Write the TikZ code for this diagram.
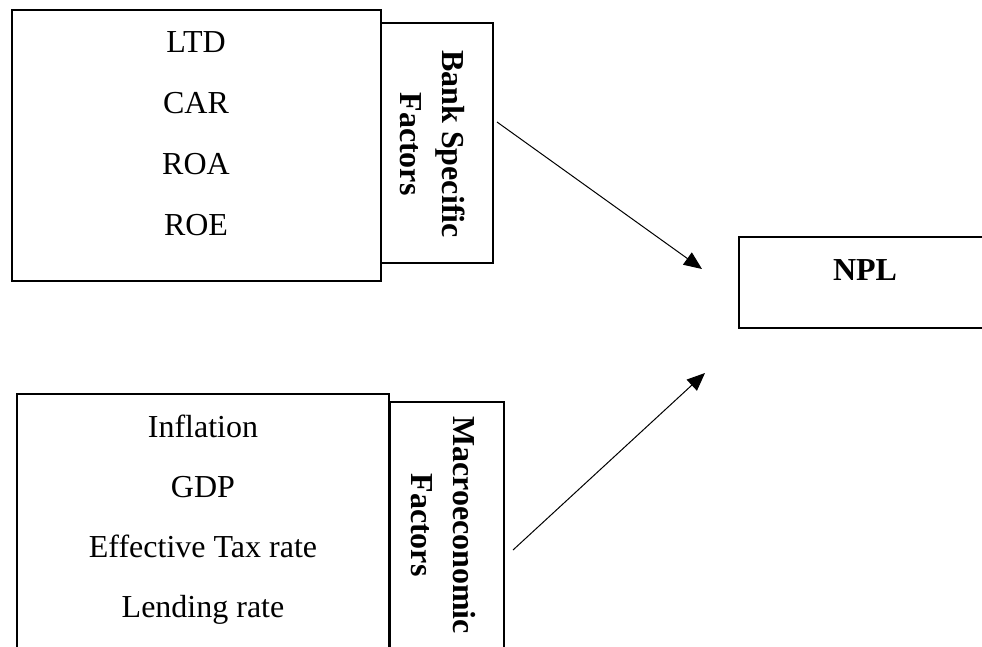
\documentclass[tikz,border=0pt]{standalone}
\usepackage{fontspec}
\setmainfont{Liberation Serif}
\usetikzlibrary{arrows.meta}

\tikzset{
  box/.style={draw, line width=1.1pt, inner sep=0pt},
  item/.style={anchor=base, font=\fontsize{32}{38}\selectfont},
  tag/.style={rotate=-90, align=center, font=\fontsize{32}{42}\selectfont\bfseries},
  link/.style={line width=1pt, -{Triangle[length=18pt,width=15pt]}}
}

\begin{document}
\begin{tikzpicture}[x=1pt,y=-1pt]
% Frame
\clip (0,0) rectangle (982,646);

% Bank specific block
\node[box, minimum width=369pt, minimum height=271pt] (bankbox) at (196.5,145.5) {};
\node[box, minimum width=112pt, minimum height=240pt] (banktag) at (437,143) {};
\foreach \t [count=\i] in {LTD,CAR,ROA,ROE}
  \node[item] (bank\i) at (196,{52+61*(\i-1)}) {\t};
\node[tag] (banklabel) at (433,144) {Bank Specific\\Factors};

% Macroeconomic block
\node[box, minimum width=372pt, minimum height=306pt] (macrobox) at (203,547) {};
\node[box, minimum width=114pt, minimum height=298pt] (macrotag) at (447,551) {};
\foreach \t [count=\i] in {Inflation,GDP,Effective Tax rate,Lending rate}
  \node[item] (macro\i) at (203,{437+60.3*(\i-1)}) {\t};
\node[tag] (macrolabel) at (443,525) {Macroeconomic\\Factors};

% Outcome
\node[box, minimum width=261pt, minimum height=91pt] (nplbox) at (869.5,282.5) {};
\node[item, font=\fontsize{32}{38}\selectfont\bfseries] (npl) at (865,280) {NPL};

% Arrow ends
\coordinate (bankout) at (497,122);
\coordinate (bankin) at (702,269);
\coordinate (macroout) at (513,550);
\coordinate (macroin) at (705,373);

% Arrows
\draw[link] (bankout) -- (bankin);
\draw[link] (macroout) -- (macroin);

\end{tikzpicture}
\end{document}
